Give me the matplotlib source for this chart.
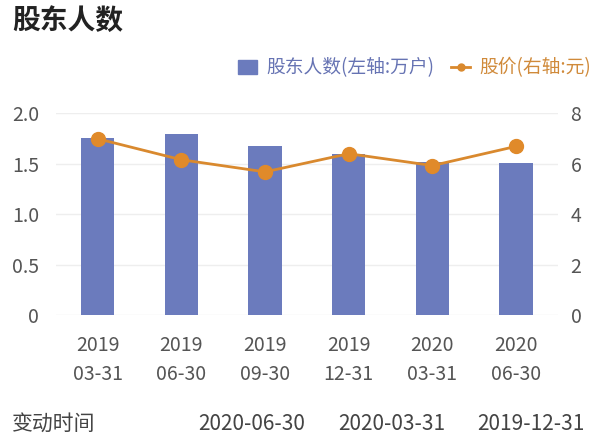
import matplotlib.pyplot as plt
from matplotlib.lines import Line2D
from matplotlib.patches import Patch

plt.rcParams['font.family'] = ['Noto Sans CJK SC', 'DejaVu Sans']

dates = ['2019\n03-31', '2019\n06-30', '2019\n09-30', '2019\n12-31', '2020\n03-31', '2020\n06-30']
holders = [1.75, 1.79, 1.67, 1.59, 1.52, 1.51]
price = [6.98, 6.15, 5.67, 6.39, 5.92, 6.68]
change_dates = ['2020-06-30', '2020-03-31', '2019-12-31']

bar_color = '#6b7bbd'
line_color = '#d9892e'
tick_color = '#555555'

fig = plt.figure(figsize=(6, 4.45), dpi=100)
ax = fig.add_axes([0.093, 0.292, 0.837, 0.454])
x = list(range(len(dates)))
ax.bar(x, holders, width=0.4, color=bar_color, zorder=2)
ax.set_ylim(0, 2.0)
ax.set_yticks([0, 0.5, 1.0, 1.5, 2.0])
ax.set_yticklabels(['0', '0.5', '1.0', '1.5', '2.0'])
ax.set_xlim(-0.5, len(dates) - 0.5)
ax.set_xticks(x)
ax.set_xticklabels(dates, linespacing=1.55)
ax.grid(axis='y', color='#eeeeee', linewidth=1, zorder=0)
for s in ax.spines.values():
    s.set_visible(False)
ax.tick_params(axis='both', length=0, labelsize=14, colors=tick_color)
ax.tick_params(axis='y', pad=12)
ax.tick_params(axis='x', pad=14)

ax2 = ax.twinx()
ax2.plot(x, price, color=line_color, linewidth=2, marker='o', markersize=10,
         markerfacecolor='#e08a2a', markeredgecolor='#e08a2a', zorder=3)
ax2.set_ylim(0, 8)
ax2.set_yticks([0, 2, 4, 6, 8])
for s in ax2.spines.values():
    s.set_visible(False)
ax2.tick_params(axis='y', length=0, labelsize=14, colors=tick_color, pad=9)

fig.text(0.02, 0.952, '股东人数', fontsize=20, fontweight='bold', color='#222222', va='center')

handles = [Patch(color=bar_color),
           Line2D([0], [0], color=line_color, marker='o', markersize=5, linewidth=2)]
leg = fig.legend(handles, ['股东人数(左轴:万户)', '股价(右轴:元)'], ncol=2,
                 loc='center right', bbox_to_anchor=(0.985, 0.847), frameon=False,
                 fontsize=13.5, handlelength=1.0, handletextpad=0.5, columnspacing=0.9,
                 handleheight=0.7, borderaxespad=0, borderpad=0)
leg.get_texts()[0].set_color('#6673b3')
leg.get_texts()[1].set_color('#d08a3a')

fig.text(0.02, 0.047, '变动时间', fontsize=15, color='#444444', va='center')
for xp, d in zip([0.508, 0.742, 0.975], change_dates):
    fig.text(xp, 0.047, d, fontsize=15, color='#444444', va='center', ha='right')

fig.savefig('out.png', dpi=100)
